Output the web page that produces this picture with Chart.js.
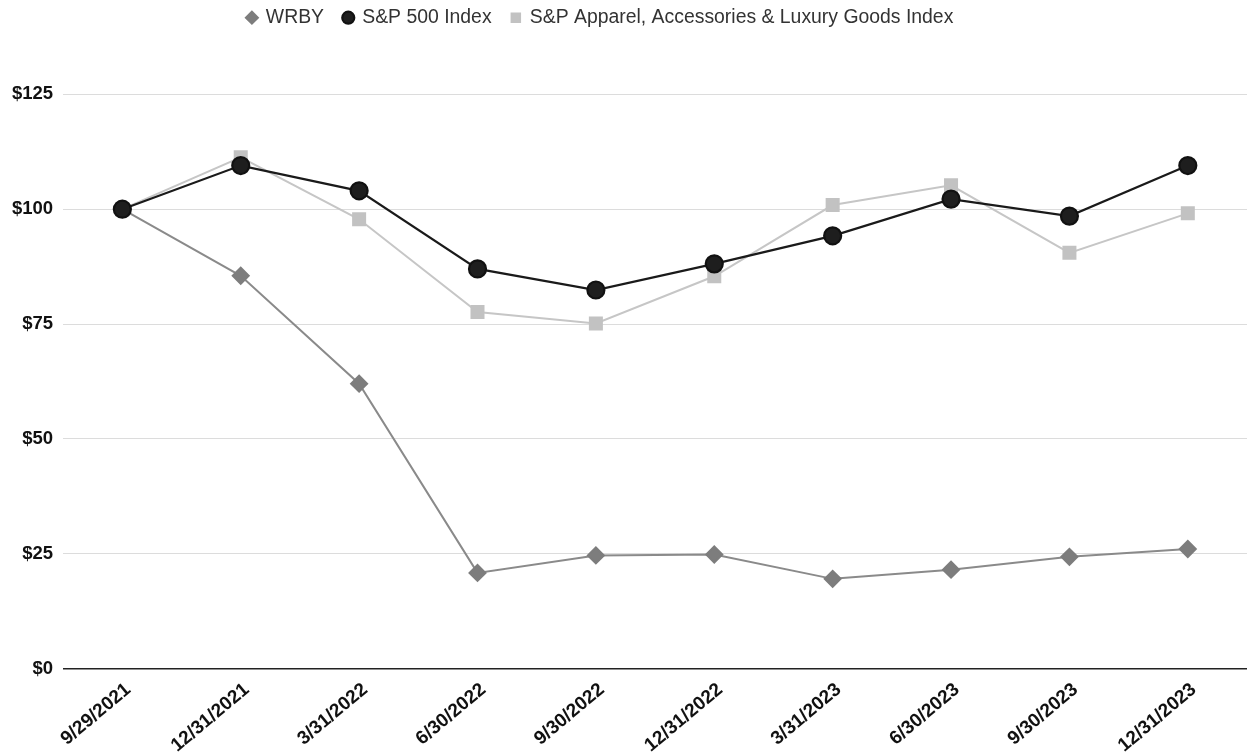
<!DOCTYPE html>
<html>
<head>
<meta charset="utf-8">
<script src="https://cdn.jsdelivr.net/npm/chart.js@4"></script>
<style>
html,body{margin:0;padding:0;background:#fff;}
#wrap{width:1250px;height:754px;position:relative;}
</style>
</head>
<body>
<div id="wrap"><canvas id="c"></canvas></div>
<script>
const categories = ["9/29/2021","12/31/2021","3/31/2022","6/30/2022","9/30/2022","12/31/2022","3/31/2023","6/30/2023","9/30/2023","12/31/2023"];
const wrby = [100, 85.5, 62, 20.8, 24.6, 24.8, 19.5, 21.5, 24.3, 26];
const sp500 = [100, 109.5, 104, 87, 82.4, 88.1, 94.2, 102.2, 98.5, 109.5];
const apparel = [100, 111.3, 97.8, 77.6, 75.1, 85.4, 100.9, 105.2, 90.5, 99.1];
const yTicks = [0, 25, 50, 75, 100, 125];

const legendSpace = {
  id: 'legendSpace',
  beforeInit(chart) {
    const lg = chart.legend;
    const fit = lg.fit;
    lg.fit = function () { fit.call(this); this.height += 57; };
    const draw = lg.draw;
    lg.draw = function () {
      const ctx = this.ctx;
      ctx.save();
      ctx.translate(-24, 0);
      draw.call(this);
      ctx.restore();
    };
  }
};

new Chart(document.getElementById('c'), {
  type: 'line',
  data: {
    labels: categories,
    datasets: [
      { label: 'WRBY', data: wrby, order: 2, borderColor: '#8a8a8a', backgroundColor: '#7d7d7d',
        pointBackgroundColor: '#7d7d7d', pointBorderColor: '#7d7d7d', borderWidth: 2,
        pointStyle: 'rectRot', pointRadius: 8, pointHoverRadius: 8, tension: 0, clip: false },
      { label: 'S&P 500 Index', data: sp500, order: 0, borderColor: '#1a1a1a', backgroundColor: '#1a1a1a',
        pointBackgroundColor: '#1e1e1e', pointBorderColor: '#111', borderWidth: 2.2,
        pointStyle: 'circle', pointRadius: 8.5, pointHoverRadius: 8.5, tension: 0, clip: false },
      { label: 'S&P Apparel, Accessories & Luxury Goods Index', data: apparel, order: 1,
        borderColor: '#c6c6c6', backgroundColor: '#c2c2c2', pointBackgroundColor: '#c2c2c2',
        pointBorderColor: '#c2c2c2', borderWidth: 2, pointStyle: 'rect', pointRadius: 8.5,
        pointHoverRadius: 8.5, tension: 0, clip: false }
    ]
  },
  options: {
    responsive: true,
    maintainAspectRatio: false,
    animation: false,
    layout: { autoPadding: false, padding: { top: -12, left: 2, right: 3, bottom: -13 } },
    plugins: {
      tooltip: { enabled: false },
      legend: {
        position: 'top',
        align: 'center',
        labels: {
          usePointStyle: true,
          boxHeight: 8.5,
          boxWidth: 8.5,
          padding: 20,
          color: '#333',
          font: { family: 'Liberation Sans', size: 19.4 },
          sort: (a, b) => a.datasetIndex - b.datasetIndex
        }
      }
    },
    scales: {
      x: {
        offset: true,
        afterFit(scale) { scale.paddingRight = 0; },
        grid: { display: false, drawTicks: false },
        border: { display: false },
        ticks: {
          color: '#111', maxRotation: 40, minRotation: 40, padding: 10, labelOffset: 6,
          font: { family: 'Liberation Sans', size: 19, weight: 'bold' }
        }
      },
      y: {
        min: 0, max: 125,
        afterBuildTicks(scale) { scale.ticks = yTicks.map(v => ({ value: v })); },
        grid: {
          drawTicks: false,
          color: ctx => ctx.tick && ctx.tick.value === 0 ? '#222' : '#dcdcdc',
          lineWidth: ctx => ctx.tick && ctx.tick.value === 0 ? 1.5 : 1
        },
        border: { display: false },
        ticks: {
          color: '#111', padding: 10,
          font: { family: 'Liberation Sans', size: 18.5, weight: 'bold' },
          callback: v => '$' + v
        }
      }
    }
  },
  plugins: [legendSpace]
});
</script>
</body>
</html>
